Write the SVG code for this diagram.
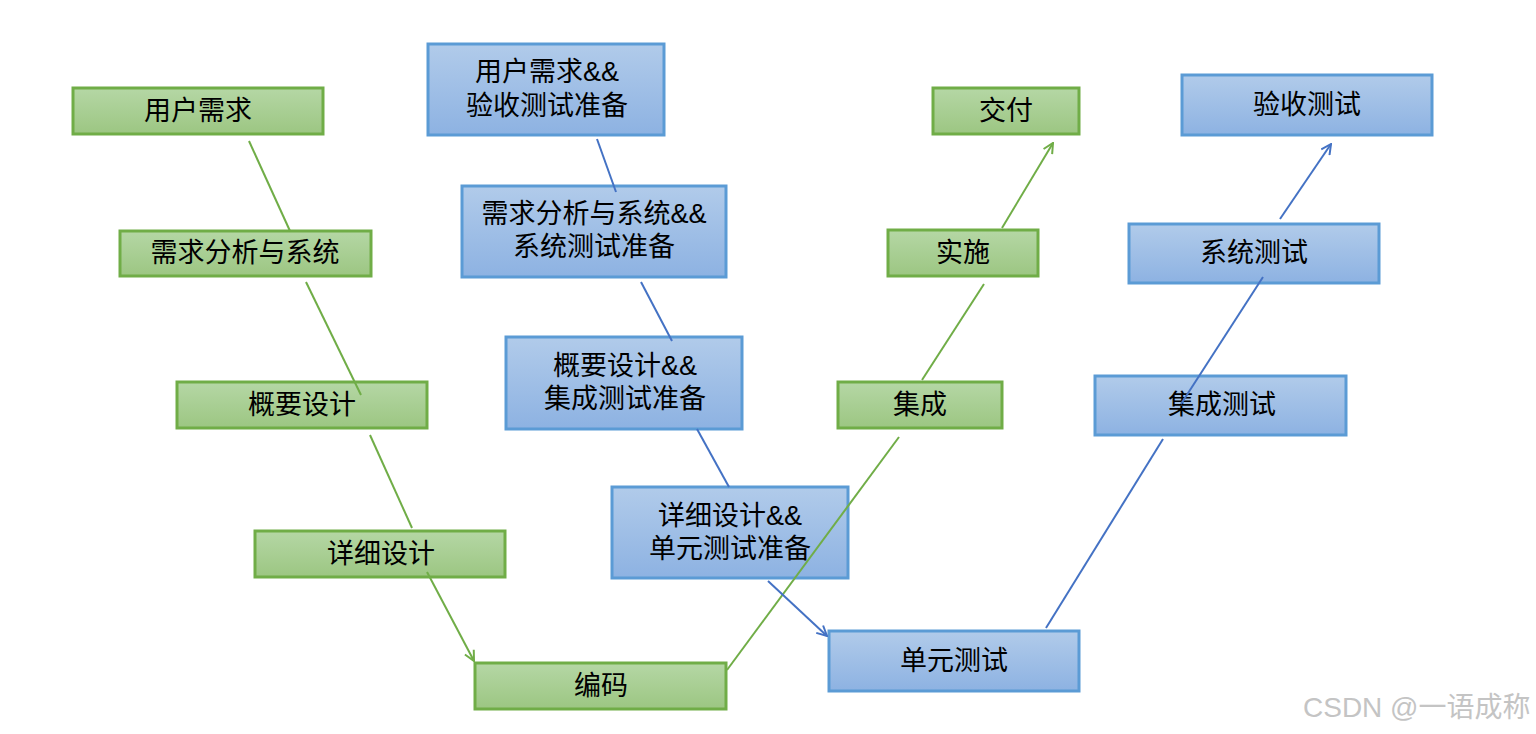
<svg xmlns="http://www.w3.org/2000/svg" width="1536" height="734" viewBox="0 0 1536 734">
<defs>
<linearGradient id="gg" x1="0" y1="0" x2="0" y2="1">
<stop offset="0" stop-color="#b5d7a5"/><stop offset="1" stop-color="#9cc682"/>
</linearGradient>
<linearGradient id="bg" x1="0" y1="0" x2="0" y2="1">
<stop offset="0" stop-color="#b1cbea"/><stop offset="1" stop-color="#8db2e2"/>
</linearGradient>
<marker id="ag" viewBox="0 0 12 12" refX="11" refY="6" markerWidth="12" markerHeight="12" markerUnits="userSpaceOnUse" orient="auto">
<path d="M1,1 L11,6 L1,11" fill="none" stroke="#70ad47" stroke-width="2"/>
</marker>
<marker id="ab" viewBox="0 0 12 12" refX="11" refY="6" markerWidth="12" markerHeight="12" markerUnits="userSpaceOnUse" orient="auto">
<path d="M1,1 L11,6 L1,11" fill="none" stroke="#4472c4" stroke-width="2"/>
</marker>
</defs>
<style>
.g rect{fill:url(#gg);stroke:#70ad47;stroke-width:3}
.b rect{fill:url(#bg);stroke:#5b9bd5;stroke-width:3}
text{font-family:"Liberation Sans","Noto Sans CJK SC",sans-serif;font-size:27px;fill:#000;text-anchor:middle;dominant-baseline:central}
.cg{stroke:#70ad47;stroke-width:2;fill:none}
.cb{stroke:#4472c4;stroke-width:2;fill:none}
.wm{font-size:28px;fill:#c4c4c4;text-anchor:start;dominant-baseline:auto}
</style>
<rect width="1536" height="734" fill="#fff"/>
<g id="n-yhxq" class="g"><rect x="73" y="88" width="250" height="46"/><text x="198" y="111">用户需求</text></g>
<g id="n-xqfx" class="g"><rect x="120" y="231" width="251" height="45"/><text x="245" y="253">需求分析与系统</text></g>
<g id="n-gysj" class="g"><rect x="177" y="382" width="250" height="46"/><text x="302" y="405">概要设计</text></g>
<g id="n-xxsj" class="g"><rect x="255" y="531" width="250" height="46"/><text x="381" y="554">详细设计</text></g>
<g id="n-bm" class="g"><rect x="475" y="663" width="251" height="46"/><text x="601" y="686">编码</text></g>
<g id="n-jc" class="g"><rect x="838" y="382" width="164" height="46"/><text x="920" y="405">集成</text></g>
<g id="n-ss" class="g"><rect x="888" y="230" width="150" height="46"/><text x="963" y="253">实施</text></g>
<g id="n-jf" class="g"><rect x="933" y="88" width="146" height="46"/><text x="1006" y="111">交付</text></g>

<g id="n-b1" class="b"><rect x="428" y="44" width="236" height="91"/><text x="547" y="72">用户需求&amp;&amp;</text><text x="547" y="106">验收测试准备</text></g>
<g id="n-b2" class="b"><rect x="462" y="186" width="264" height="91"/><text x="594" y="214">需求分析与系统&amp;&amp;</text><text x="594" y="247">系统测试准备</text></g>
<g id="n-b3" class="b"><rect x="506" y="337" width="236" height="92"/><text x="625" y="366">概要设计&amp;&amp;</text><text x="625" y="399">集成测试准备</text></g>
<g id="n-b4" class="b"><rect x="612" y="487" width="236" height="91"/><text x="730" y="516">详细设计&amp;&amp;</text><text x="730" y="549">单元测试准备</text></g>
<g id="n-dycs" class="b"><rect x="829" y="631" width="250" height="60"/><text x="954" y="661">单元测试</text></g>
<g id="n-jccs" class="b"><rect x="1095" y="376" width="251" height="59"/><text x="1222" y="405">集成测试</text></g>
<g id="n-xtcs" class="b"><rect x="1129" y="224" width="250" height="59"/><text x="1254" y="253">系统测试</text></g>
<g id="n-yscs" class="b"><rect x="1182" y="75" width="250" height="60"/><text x="1307" y="105">验收测试</text></g>

<g id="connectors">
<line class="cg" x1="249" y1="141" x2="290" y2="231"/>
<line class="cg" x1="306" y1="282" x2="361" y2="395"/>
<line class="cg" x1="370" y1="435" x2="412" y2="528"/>
<line class="cg" x1="427" y1="572" x2="474" y2="661" marker-end="url(#ag)"/>
<line class="cg" x1="727" y1="670" x2="899" y2="437"/>
<line class="cg" x1="922" y1="380" x2="984" y2="284"/>
<line class="cg" x1="1002" y1="228" x2="1053" y2="143" marker-end="url(#ag)"/>
<line class="cb" x1="597" y1="139" x2="616" y2="192"/>
<line class="cb" x1="641" y1="282" x2="672" y2="341"/>
<line class="cb" x1="697" y1="429" x2="729" y2="487"/>
<line class="cb" x1="768" y1="581" x2="827" y2="636" marker-end="url(#ab)"/>
<line class="cb" x1="1046" y1="628" x2="1163" y2="439"/>
<line class="cb" x1="1181" y1="404" x2="1263" y2="277"/>
<line class="cb" x1="1280" y1="219" x2="1331" y2="144" marker-end="url(#ab)"/>
</g>
<text class="wm" x="1303" y="717">CSDN @一语成称</text>
</svg>
